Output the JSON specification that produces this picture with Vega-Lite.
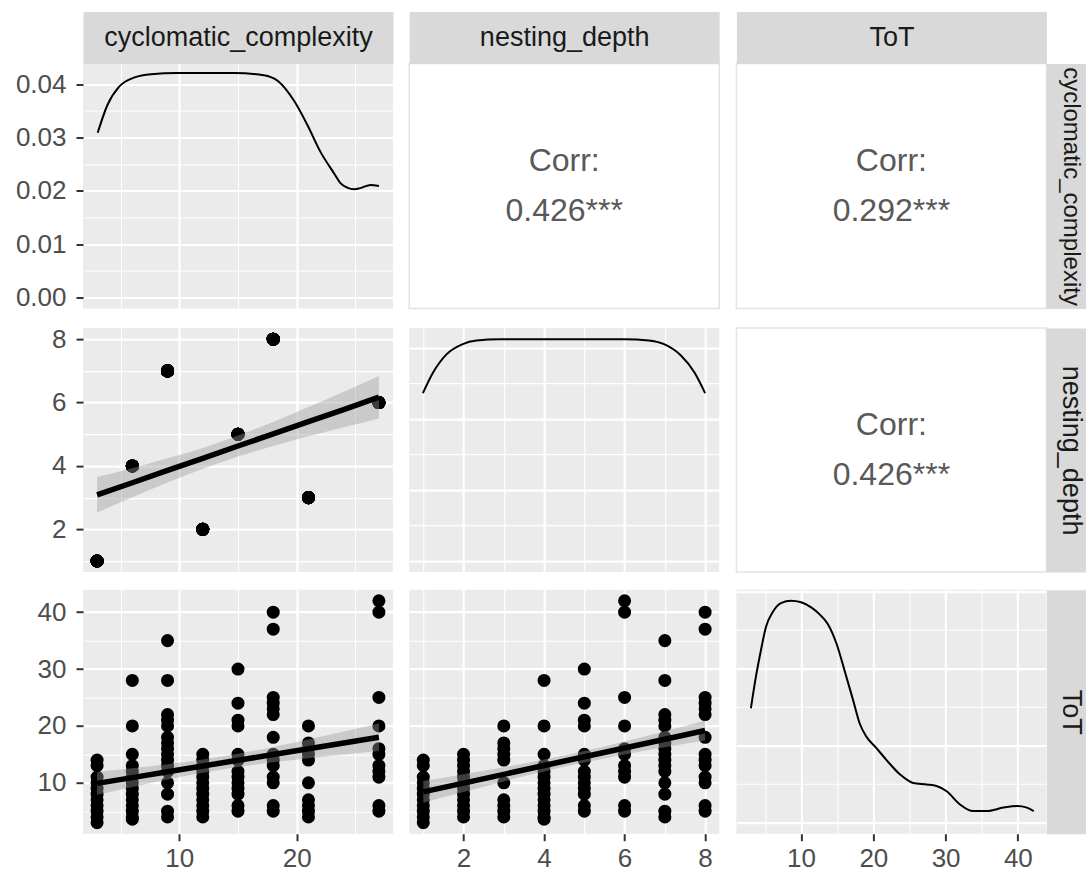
{
  "$schema": "https://vega.github.io/schema/vega-lite/v6.json",
  "padding": {"left": 15, "top": 22.5, "right": 0, "bottom": 0},
  "background": "white",
  "config": {
    "font": "Liberation Sans",
    "view": {"stroke": null},
    "axis": {"domain": false, "labelFont": "Liberation Sans", "labelFontSize": 26, "labelColor": "#4d4d4d", "tickColor": "#333333", "tickSize": 7, "tickWidth": 2, "gridColor": "#ffffff", "labelPadding": 7, "labelOverlap": false, "labelFlush": false,
             "titleFont": "Liberation Sans", "titleFontSize": 27, "titleFontWeight": "normal", "titleColor": "#1a1a1a", "domainColor": "#d9d9d9", "domainCap": "butt"},
    "axisLeft": {"labelPadding": 10},
    "axisBottom": {"labelPadding": 5}
  },
  "datasets": {
    "main": [
      {"cc":3,"nd":1,"ToT":14},{"cc":3,"nd":1,"ToT":13},{"cc":3,"nd":1,"ToT":11},{"cc":3,"nd":1,"ToT":10},{"cc":3,"nd":1,"ToT":9},{"cc":3,"nd":1,"ToT":8},{"cc":3,"nd":1,"ToT":7},{"cc":3,"nd":1,"ToT":6},{"cc":3,"nd":1,"ToT":5},{"cc":3,"nd":1,"ToT":4},{"cc":3,"nd":1,"ToT":3},
      {"cc":6,"nd":4,"ToT":28},{"cc":6,"nd":4,"ToT":20},{"cc":6,"nd":4,"ToT":15},{"cc":6,"nd":4,"ToT":13},{"cc":6,"nd":4,"ToT":12},{"cc":6,"nd":4,"ToT":11},{"cc":6,"nd":4,"ToT":10},{"cc":6,"nd":4,"ToT":9},{"cc":6,"nd":4,"ToT":8},{"cc":6,"nd":4,"ToT":7},{"cc":6,"nd":4,"ToT":6},{"cc":6,"nd":4,"ToT":5},{"cc":6,"nd":4,"ToT":4},{"cc":6,"nd":4,"ToT":3.6},
      {"cc":9,"nd":7,"ToT":35},{"cc":9,"nd":7,"ToT":28},{"cc":9,"nd":7,"ToT":22},{"cc":9,"nd":7,"ToT":21},{"cc":9,"nd":7,"ToT":20},{"cc":9,"nd":7,"ToT":18},{"cc":9,"nd":7,"ToT":17},{"cc":9,"nd":7,"ToT":16},{"cc":9,"nd":7,"ToT":15},{"cc":9,"nd":7,"ToT":14},{"cc":9,"nd":7,"ToT":13},{"cc":9,"nd":7,"ToT":12},{"cc":9,"nd":7,"ToT":10},{"cc":9,"nd":7,"ToT":8},{"cc":9,"nd":7,"ToT":5},{"cc":9,"nd":7,"ToT":4},
      {"cc":12,"nd":2,"ToT":15},{"cc":12,"nd":2,"ToT":14},{"cc":12,"nd":2,"ToT":13},{"cc":12,"nd":2,"ToT":12},{"cc":12,"nd":2,"ToT":11},{"cc":12,"nd":2,"ToT":10},{"cc":12,"nd":2,"ToT":9},{"cc":12,"nd":2,"ToT":8},{"cc":12,"nd":2,"ToT":7},{"cc":12,"nd":2,"ToT":6},{"cc":12,"nd":2,"ToT":5},{"cc":12,"nd":2,"ToT":4},
      {"cc":15,"nd":5,"ToT":30},{"cc":15,"nd":5,"ToT":24},{"cc":15,"nd":5,"ToT":21},{"cc":15,"nd":5,"ToT":20},{"cc":15,"nd":5,"ToT":15},{"cc":15,"nd":5,"ToT":14},{"cc":15,"nd":5,"ToT":12},{"cc":15,"nd":5,"ToT":11},{"cc":15,"nd":5,"ToT":10},{"cc":15,"nd":5,"ToT":9},{"cc":15,"nd":5,"ToT":8},{"cc":15,"nd":5,"ToT":6},{"cc":15,"nd":5,"ToT":5},
      {"cc":18,"nd":8,"ToT":40},{"cc":18,"nd":8,"ToT":37},{"cc":18,"nd":8,"ToT":25},{"cc":18,"nd":8,"ToT":24},{"cc":18,"nd":8,"ToT":23},{"cc":18,"nd":8,"ToT":22},{"cc":18,"nd":8,"ToT":18},{"cc":18,"nd":8,"ToT":15},{"cc":18,"nd":8,"ToT":14},{"cc":18,"nd":8,"ToT":13},{"cc":18,"nd":8,"ToT":11},{"cc":18,"nd":8,"ToT":10},{"cc":18,"nd":8,"ToT":6},{"cc":18,"nd":8,"ToT":5},
      {"cc":21,"nd":3,"ToT":20},{"cc":21,"nd":3,"ToT":17},{"cc":21,"nd":3,"ToT":16},{"cc":21,"nd":3,"ToT":15},{"cc":21,"nd":3,"ToT":14},{"cc":21,"nd":3,"ToT":10},{"cc":21,"nd":3,"ToT":7},{"cc":21,"nd":3,"ToT":6},{"cc":21,"nd":3,"ToT":5},{"cc":21,"nd":3,"ToT":4},
      {"cc":27,"nd":6,"ToT":42},{"cc":27,"nd":6,"ToT":40},{"cc":27,"nd":6,"ToT":25},{"cc":27,"nd":6,"ToT":20},{"cc":27,"nd":6,"ToT":16},{"cc":27,"nd":6,"ToT":15},{"cc":27,"nd":6,"ToT":13},{"cc":27,"nd":6,"ToT":12},{"cc":27,"nd":6,"ToT":11},{"cc":27,"nd":6,"ToT":6},{"cc":27,"nd":6,"ToT":5}
    ],
    "dens": [
      {"v":"cc","x":3.05,"y":0.0309},{"v":"cc","x":3.9,"y":0.0362},{"v":"cc","x":4.9,"y":0.0396},{"v":"cc","x":6.2,"y":0.0413},{"v":"cc","x":7.6,"y":0.0419},{"v":"cc","x":9.8,"y":0.0421},{"v":"cc","x":12,"y":0.0421},{"v":"cc","x":14.7,"y":0.0421},{"v":"cc","x":17.2,"y":0.0417},{"v":"cc","x":18.4,"y":0.0406},{"v":"cc","x":19.8,"y":0.0368},{"v":"cc","x":20.9,"y":0.0324},{"v":"cc","x":22.0,"y":0.0274},{"v":"cc","x":23.2,"y":0.0232},{"v":"cc","x":23.7,"y":0.0215},{"v":"cc","x":24.3,"y":0.0206},{"v":"cc","x":24.9,"y":0.0203},{"v":"cc","x":25.4,"y":0.0205},{"v":"cc","x":26.3,"y":0.0211},{"v":"cc","x":27.0,"y":0.0209},
      {"v":"nd","x":0.99,"y":0.0946},{"v":"nd","x":1.24,"y":0.1061},{"v":"nd","x":1.57,"y":0.1163},{"v":"nd","x":1.98,"y":0.1222},{"v":"nd","x":2.32,"y":0.1242},{"v":"nd","x":2.9,"y":0.125},{"v":"nd","x":4.5,"y":0.125},{"v":"nd","x":6.0,"y":0.125},{"v":"nd","x":6.6,"y":0.1243},{"v":"nd","x":6.98,"y":0.1222},{"v":"nd","x":7.4,"y":0.1158},{"v":"nd","x":7.74,"y":0.1061},{"v":"nd","x":8.0,"y":0.0946},
      {"v":"ToT","x":3.06,"y":0.0297},{"v":"ToT","x":3.75,"y":0.0379},{"v":"ToT","x":4.44,"y":0.0447},{"v":"ToT","x":5.14,"y":0.0508},{"v":"ToT","x":6.06,"y":0.0546},{"v":"ToT","x":7.22,"y":0.057},{"v":"ToT","x":8.6,"y":0.0576},{"v":"ToT","x":10,"y":0.0572},{"v":"ToT","x":11.4,"y":0.0559},{"v":"ToT","x":12.5,"y":0.0542},{"v":"ToT","x":13.7,"y":0.0516},{"v":"ToT","x":14.9,"y":0.0465},{"v":"ToT","x":16.0,"y":0.0396},{"v":"ToT","x":17.2,"y":0.0318},{"v":"ToT","x":18.1,"y":0.0258},{"v":"ToT","x":19.0,"y":0.0224},{"v":"ToT","x":20.4,"y":0.0194},{"v":"ToT","x":21.8,"y":0.0163},{"v":"ToT","x":23.7,"y":0.0125},{"v":"ToT","x":25.5,"y":0.0103},{"v":"ToT","x":27.4,"y":0.0099},{"v":"ToT","x":28.75,"y":0.0095},{"v":"ToT","x":30.1,"y":0.0082},{"v":"ToT","x":32.0,"y":0.0047},{"v":"ToT","x":33.8,"y":0.003},{"v":"ToT","x":35.7,"y":0.003},{"v":"ToT","x":38.0,"y":0.0039},{"v":"ToT","x":39.9,"y":0.0043},{"v":"ToT","x":41.25,"y":0.0039},{"v":"ToT","x":42.2,"y":0.003}
    ],
    "fit": [
      {"p":"cc_nd","x":3,"fit":3.09,"lo":2.53,"hi":3.65},{"p":"cc_nd","x":6,"fit":3.47,"lo":3.01,"hi":3.93},{"p":"cc_nd","x":9,"fit":3.86,"lo":3.48,"hi":4.24},{"p":"cc_nd","x":12,"fit":4.24,"lo":3.91,"hi":4.57},{"p":"cc_nd","x":15,"fit":4.63,"lo":4.30,"hi":4.96},{"p":"cc_nd","x":18,"fit":5.01,"lo":4.63,"hi":5.39},{"p":"cc_nd","x":21,"fit":5.40,"lo":4.94,"hi":5.86},{"p":"cc_nd","x":24,"fit":5.78,"lo":5.22,"hi":6.34},{"p":"cc_nd","x":27,"fit":6.17,"lo":5.50,"hi":6.84},
      {"p":"cc_tot","x":3,"fit":9.90,"lo":7.88,"hi":11.92},{"p":"cc_tot","x":6,"fit":10.91,"lo":9.26,"hi":12.56},{"p":"cc_tot","x":9,"fit":11.93,"lo":10.58,"hi":13.28},{"p":"cc_tot","x":12,"fit":12.94,"lo":11.77,"hi":14.11},{"p":"cc_tot","x":15,"fit":13.95,"lo":12.78,"hi":15.12},{"p":"cc_tot","x":18,"fit":14.96,"lo":13.61,"hi":16.31},{"p":"cc_tot","x":21,"fit":15.98,"lo":14.33,"hi":17.63},{"p":"cc_tot","x":24,"fit":16.99,"lo":14.97,"hi":19.01},{"p":"cc_tot","x":27,"fit":18.00,"lo":15.58,"hi":20.42},
      {"p":"nd_tot","x":1,"fit":8.40,"lo":6.50,"hi":10.30},{"p":"nd_tot","x":2,"fit":9.94,"lo":8.39,"hi":11.49},{"p":"nd_tot","x":3,"fit":11.49,"lo":10.24,"hi":12.74},{"p":"nd_tot","x":4,"fit":13.03,"lo":11.98,"hi":14.08},{"p":"nd_tot","x":5,"fit":14.57,"lo":13.56,"hi":15.58},{"p":"nd_tot","x":6,"fit":16.11,"lo":14.96,"hi":17.26},{"p":"nd_tot","x":7,"fit":17.66,"lo":16.25,"hi":19.07},{"p":"nd_tot","x":8,"fit":19.20,"lo":17.45,"hi":20.95}
    ]
  },
  "columns": 3,
  "spacing": {"row": 15.6, "column": 15.2},
  "align": "each",
  "resolve": {"scale": {"x": "independent", "y": "independent"}},
  "concat": [
    {
      "width": 310, "height": 245, "view": {"fill": "#ebebeb", "stroke": null},
      "data": {"name": "dens"},
      "transform": [{"filter": "datum.v === 'cc'"}],
      "mark": {"type": "line", "color": "black", "strokeWidth": 2, "interpolate": "monotone", "clip": true},
      "encoding": {
        "x": {"field": "x", "type": "quantitative", "scale": {"domain": [1.8, 28.2], "nice": false, "zero": false},
              "axis": {"orient": "top", "values": [5, 10, 15, 20, 25], "labels": false, "ticks": false, "grid": true, "gridWidth": {"condition": {"test": "datum.value % 10 === 0", "value": 2.2}, "value": 1.1},
                       "domain": true, "domainWidth": 52, "offset": 26, "title": "cyclomatic_complexity", "titleY": 0, "titleBaseline": "middle"}},
        "y": {"field": "y", "type": "quantitative", "title": null, "scale": {"domain": [-0.0021, 0.0439], "nice": false, "zero": false},
              "axis": {"orient": "left", "values": [0, 0.005, 0.01, 0.015, 0.02, 0.025, 0.03, 0.035, 0.04], "format": ".2f", "grid": true,
                       "gridWidth": {"condition": {"test": "round(datum.value*1000) % 10 === 0", "value": 2.2}, "value": 1.1},
                       "tickOpacity": {"condition": {"test": "round(datum.value*1000) % 10 === 0", "value": 1}, "value": 0},
                       "labelExpr": "round(datum.value*1000) % 10 === 0 ? datum.label : ''"}}
      }
    },
    {
      "width": 310, "height": 245, "view": {"fill": "white", "stroke": "#e3e3e3", "strokeWidth": 1.5},
      "data": {"values": [{"t": ["Corr:", "0.426***"]}]},
      "mark": {"type": "text", "font": "Liberation Sans", "fontSize": 32, "lineHeight": 50, "color": "#595959", "baseline": "middle", "dy": -25},
      "encoding": {
        "text": {"field": "t"},
        "x": {"datum": 0.5, "type": "quantitative", "scale": {"domain": [0, 1]},
              "axis": {"orient": "top", "labels": false, "ticks": false, "grid": false, "domain": true, "domainWidth": 52, "offset": 26, "title": "nesting_depth", "titleY": 0, "titleBaseline": "middle"}},
        "y": {"datum": 0.5, "type": "quantitative", "scale": {"domain": [0, 1]}, "axis": null}
      }
    },
    {
      "width": 310, "height": 245, "view": {"fill": "white", "stroke": "#e3e3e3", "strokeWidth": 1.5},
      "data": {"values": [{"t": ["Corr:", "0.292***"]}]},
      "mark": {"type": "text", "font": "Liberation Sans", "fontSize": 32, "lineHeight": 50, "color": "#595959", "baseline": "middle", "dy": -25},
      "encoding": {
        "text": {"field": "t"},
        "x": {"datum": 0.5, "type": "quantitative", "scale": {"domain": [0, 1]},
              "axis": {"orient": "top", "labels": false, "ticks": false, "grid": false, "domain": true, "domainWidth": 52, "offset": 26, "title": "ToT", "titleY": 0, "titleBaseline": "middle"}},
        "y": {"datum": 0.5, "type": "quantitative", "scale": {"domain": [0, 1]},
              "axis": {"orient": "right", "labels": false, "ticks": false, "grid": false, "domain": true, "domainWidth": 43, "offset": 21.5, "title": "cyclomatic_complexity", "titleFontSize": 24, "titleAngle": 90, "titleX": 3, "titleBaseline": "middle"}}
      }
    },
    {
      "width": 310, "height": 244, "view": {"fill": "#ebebeb", "stroke": null},
      "layer": [
        {
          "data": {"name": "main"},
          "mark": {"type": "circle", "size": 170, "opacity": 1, "color": "black", "clip": true},
          "encoding": {
            "x": {"field": "cc", "type": "quantitative", "title": null, "scale": {"domain": [1.8, 28.2], "nice": false, "zero": false},
                  "axis": {"values": [5, 10, 15, 20, 25], "labels": false, "ticks": false, "grid": true, "gridWidth": {"condition": {"test": "datum.value % 10 === 0", "value": 2.2}, "value": 1.1}}},
            "y": {"field": "nd", "type": "quantitative", "title": null, "scale": {"domain": [0.65, 8.35], "nice": false, "zero": false},
                  "axis": {"orient": "left", "values": [1, 2, 3, 4, 5, 6, 7, 8], "grid": true, "labels": true, "ticks": true,
                           "gridWidth": {"condition": {"test": "datum.value % 2 === 0", "value": 2.2}, "value": 1.1},
                           "tickOpacity": {"condition": {"test": "datum.value % 2 === 0", "value": 1}, "value": 0},
                           "labelExpr": "datum.value % 2 === 0 ? datum.label : ''"}}
          }
        },
        {
          "data": {"name": "fit"},
          "transform": [{"filter": "datum.p === 'cc_nd'"}],
          "mark": {"type": "area", "color": "#999999", "opacity": 0.4, "interpolate": "monotone", "clip": true},
          "encoding": {
            "x": {"field": "x", "type": "quantitative", "title": null, "scale": {"domain": [1.8, 28.2], "nice": false, "zero": false},
                  "axis": {"values": [5, 10, 15, 20, 25], "labels": false, "ticks": false, "grid": true, "gridWidth": {"condition": {"test": "datum.value % 10 === 0", "value": 2.2}, "value": 1.1}}},
            "y": {"field": "lo", "type": "quantitative", "title": null, "scale": {"domain": [0.65, 8.35], "nice": false, "zero": false},
                  "axis": {"orient": "left", "values": [1, 2, 3, 4, 5, 6, 7, 8], "grid": true, "labels": true, "ticks": true,
                           "gridWidth": {"condition": {"test": "datum.value % 2 === 0", "value": 2.2}, "value": 1.1},
                           "tickOpacity": {"condition": {"test": "datum.value % 2 === 0", "value": 1}, "value": 0},
                           "labelExpr": "datum.value % 2 === 0 ? datum.label : ''"}},
            "y2": {"field": "hi"}
          }
        },
        {
          "data": {"name": "fit"},
          "transform": [{"filter": "datum.p === 'cc_nd'"}],
          "mark": {"type": "line", "color": "black", "strokeWidth": 5.5, "clip": true},
          "encoding": {
            "x": {"field": "x", "type": "quantitative", "title": null, "scale": {"domain": [1.8, 28.2], "nice": false, "zero": false},
                  "axis": {"values": [5, 10, 15, 20, 25], "labels": false, "ticks": false, "grid": true, "gridWidth": {"condition": {"test": "datum.value % 10 === 0", "value": 2.2}, "value": 1.1}}},
            "y": {"field": "fit", "type": "quantitative", "title": null, "scale": {"domain": [0.65, 8.35], "nice": false, "zero": false},
                  "axis": {"orient": "left", "values": [1, 2, 3, 4, 5, 6, 7, 8], "grid": true, "labels": true, "ticks": true,
                           "gridWidth": {"condition": {"test": "datum.value % 2 === 0", "value": 2.2}, "value": 1.1},
                           "tickOpacity": {"condition": {"test": "datum.value % 2 === 0", "value": 1}, "value": 0},
                           "labelExpr": "datum.value % 2 === 0 ? datum.label : ''"}}
          }
        }
      ]
    },
    {
      "width": 310, "height": 244, "view": {"fill": "#ebebeb", "stroke": null},
      "data": {"name": "dens"},
      "transform": [{"filter": "datum.v === 'nd'"}],
      "mark": {"type": "line", "color": "black", "strokeWidth": 2, "interpolate": "monotone", "clip": true},
      "encoding": {
        "x": {"field": "x", "type": "quantitative", "title": null, "scale": {"domain": [0.65, 8.35], "nice": false, "zero": false},
              "axis": {"values": [1, 2, 3, 4, 5, 6, 7, 8], "labels": false, "ticks": false, "grid": true, "gridWidth": {"condition": {"test": "datum.value % 2 === 0", "value": 2.2}, "value": 1.1}}},
        "y": {"field": "y", "type": "quantitative", "title": null, "scale": {"domain": [-0.00625, 0.13125], "nice": false, "zero": false},
              "axis": {"values": [0, 0.02, 0.04, 0.06, 0.08, 0.1, 0.12], "labels": false, "ticks": false, "grid": true, "gridWidth": {"condition": {"test": "round(datum.value*100) % 4 === 0", "value": 2.2}, "value": 1.1}}}
      }
    },
    {
      "width": 310, "height": 244, "view": {"fill": "white", "stroke": "#e3e3e3", "strokeWidth": 1.5},
      "data": {"values": [{"t": ["Corr:", "0.426***"]}]},
      "mark": {"type": "text", "font": "Liberation Sans", "fontSize": 32, "lineHeight": 50, "color": "#595959", "baseline": "middle", "dy": -25},
      "encoding": {
        "text": {"field": "t"},
        "x": {"datum": 0.5, "type": "quantitative", "scale": {"domain": [0, 1]}, "axis": null},
        "y": {"datum": 0.5, "type": "quantitative", "scale": {"domain": [0, 1]},
              "axis": {"orient": "right", "labels": false, "ticks": false, "grid": false, "domain": true, "domainWidth": 43, "offset": 21.5, "title": "nesting_depth", "titleAngle": 90, "titleX": 3, "titleBaseline": "middle"}}
      }
    },
    {
      "width": 310, "height": 244, "view": {"fill": "#ebebeb", "stroke": null},
      "layer": [
        {
          "data": {"name": "main"},
          "mark": {"type": "circle", "size": 170, "opacity": 1, "color": "black", "clip": true},
          "encoding": {
            "x": {"field": "cc", "type": "quantitative", "title": null, "scale": {"domain": [1.8, 28.2], "nice": false, "zero": false},
                  "axis": {"values": [5, 10, 15, 20, 25], "grid": true, "labels": true, "ticks": true,
                           "gridWidth": {"condition": {"test": "datum.value % 10 === 0", "value": 2.2}, "value": 1.1},
                           "tickOpacity": {"condition": {"test": "datum.value % 10 === 0", "value": 1}, "value": 0},
                           "labelExpr": "datum.value % 10 === 0 ? datum.label : ''"}},
            "y": {"field": "ToT", "type": "quantitative", "title": null, "scale": {"domain": [1.05, 43.95], "nice": false, "zero": false},
                  "axis": {"orient": "left", "values": [5, 10, 15, 20, 25, 30, 35, 40], "grid": true, "labels": true, "ticks": true,
                           "gridWidth": {"condition": {"test": "datum.value % 10 === 0", "value": 2.2}, "value": 1.1},
                           "tickOpacity": {"condition": {"test": "datum.value % 10 === 0", "value": 1}, "value": 0},
                           "labelExpr": "datum.value % 10 === 0 ? datum.label : ''"}}
          }
        },
        {
          "data": {"name": "fit"},
          "transform": [{"filter": "datum.p === 'cc_tot'"}],
          "mark": {"type": "area", "color": "#999999", "opacity": 0.4, "interpolate": "monotone", "clip": true},
          "encoding": {
            "x": {"field": "x", "type": "quantitative", "title": null, "scale": {"domain": [1.8, 28.2], "nice": false, "zero": false},
                  "axis": {"values": [5, 10, 15, 20, 25], "grid": true, "labels": true, "ticks": true,
                           "gridWidth": {"condition": {"test": "datum.value % 10 === 0", "value": 2.2}, "value": 1.1},
                           "tickOpacity": {"condition": {"test": "datum.value % 10 === 0", "value": 1}, "value": 0},
                           "labelExpr": "datum.value % 10 === 0 ? datum.label : ''"}},
            "y": {"field": "lo", "type": "quantitative", "title": null, "scale": {"domain": [1.05, 43.95], "nice": false, "zero": false},
                  "axis": {"orient": "left", "values": [5, 10, 15, 20, 25, 30, 35, 40], "grid": true, "labels": true, "ticks": true,
                           "gridWidth": {"condition": {"test": "datum.value % 10 === 0", "value": 2.2}, "value": 1.1},
                           "tickOpacity": {"condition": {"test": "datum.value % 10 === 0", "value": 1}, "value": 0},
                           "labelExpr": "datum.value % 10 === 0 ? datum.label : ''"}},
            "y2": {"field": "hi"}
          }
        },
        {
          "data": {"name": "fit"},
          "transform": [{"filter": "datum.p === 'cc_tot'"}],
          "mark": {"type": "line", "color": "black", "strokeWidth": 5.5, "clip": true},
          "encoding": {
            "x": {"field": "x", "type": "quantitative", "title": null, "scale": {"domain": [1.8, 28.2], "nice": false, "zero": false},
                  "axis": {"values": [5, 10, 15, 20, 25], "grid": true, "labels": true, "ticks": true,
                           "gridWidth": {"condition": {"test": "datum.value % 10 === 0", "value": 2.2}, "value": 1.1},
                           "tickOpacity": {"condition": {"test": "datum.value % 10 === 0", "value": 1}, "value": 0},
                           "labelExpr": "datum.value % 10 === 0 ? datum.label : ''"}},
            "y": {"field": "fit", "type": "quantitative", "title": null, "scale": {"domain": [1.05, 43.95], "nice": false, "zero": false},
                  "axis": {"orient": "left", "values": [5, 10, 15, 20, 25, 30, 35, 40], "grid": true, "labels": true, "ticks": true,
                           "gridWidth": {"condition": {"test": "datum.value % 10 === 0", "value": 2.2}, "value": 1.1},
                           "tickOpacity": {"condition": {"test": "datum.value % 10 === 0", "value": 1}, "value": 0},
                           "labelExpr": "datum.value % 10 === 0 ? datum.label : ''"}}
          }
        }
      ]
    },
    {
      "width": 310, "height": 244, "view": {"fill": "#ebebeb", "stroke": null},
      "layer": [
        {
          "data": {"name": "main"},
          "mark": {"type": "circle", "size": 170, "opacity": 1, "color": "black", "clip": true},
          "encoding": {
            "x": {"field": "nd", "type": "quantitative", "title": null, "scale": {"domain": [0.65, 8.35], "nice": false, "zero": false},
                  "axis": {"values": [1, 2, 3, 4, 5, 6, 7, 8], "grid": true, "labels": true, "ticks": true,
                           "gridWidth": {"condition": {"test": "datum.value % 2 === 0", "value": 2.2}, "value": 1.1},
                           "tickOpacity": {"condition": {"test": "datum.value % 2 === 0", "value": 1}, "value": 0},
                           "labelExpr": "datum.value % 2 === 0 ? datum.label : ''"}},
            "y": {"field": "ToT", "type": "quantitative", "title": null, "scale": {"domain": [1.05, 43.95], "nice": false, "zero": false},
                  "axis": {"values": [5, 10, 15, 20, 25, 30, 35, 40], "labels": false, "ticks": false, "grid": true,
                           "gridWidth": {"condition": {"test": "datum.value % 10 === 0", "value": 2.2}, "value": 1.1}}}
          }
        },
        {
          "data": {"name": "fit"},
          "transform": [{"filter": "datum.p === 'nd_tot'"}],
          "mark": {"type": "area", "color": "#999999", "opacity": 0.4, "interpolate": "monotone", "clip": true},
          "encoding": {
            "x": {"field": "x", "type": "quantitative", "title": null, "scale": {"domain": [0.65, 8.35], "nice": false, "zero": false},
                  "axis": {"values": [1, 2, 3, 4, 5, 6, 7, 8], "grid": true, "labels": true, "ticks": true,
                           "gridWidth": {"condition": {"test": "datum.value % 2 === 0", "value": 2.2}, "value": 1.1},
                           "tickOpacity": {"condition": {"test": "datum.value % 2 === 0", "value": 1}, "value": 0},
                           "labelExpr": "datum.value % 2 === 0 ? datum.label : ''"}},
            "y": {"field": "lo", "type": "quantitative", "title": null, "scale": {"domain": [1.05, 43.95], "nice": false, "zero": false},
                  "axis": {"values": [5, 10, 15, 20, 25, 30, 35, 40], "labels": false, "ticks": false, "grid": true,
                           "gridWidth": {"condition": {"test": "datum.value % 10 === 0", "value": 2.2}, "value": 1.1}}},
            "y2": {"field": "hi"}
          }
        },
        {
          "data": {"name": "fit"},
          "transform": [{"filter": "datum.p === 'nd_tot'"}],
          "mark": {"type": "line", "color": "black", "strokeWidth": 5.5, "clip": true},
          "encoding": {
            "x": {"field": "x", "type": "quantitative", "title": null, "scale": {"domain": [0.65, 8.35], "nice": false, "zero": false},
                  "axis": {"values": [1, 2, 3, 4, 5, 6, 7, 8], "grid": true, "labels": true, "ticks": true,
                           "gridWidth": {"condition": {"test": "datum.value % 2 === 0", "value": 2.2}, "value": 1.1},
                           "tickOpacity": {"condition": {"test": "datum.value % 2 === 0", "value": 1}, "value": 0},
                           "labelExpr": "datum.value % 2 === 0 ? datum.label : ''"}},
            "y": {"field": "fit", "type": "quantitative", "title": null, "scale": {"domain": [1.05, 43.95], "nice": false, "zero": false},
                  "axis": {"values": [5, 10, 15, 20, 25, 30, 35, 40], "labels": false, "ticks": false, "grid": true,
                           "gridWidth": {"condition": {"test": "datum.value % 10 === 0", "value": 2.2}, "value": 1.1}}}
          }
        }
      ]
    },
    {
      "width": 310, "height": 244, "view": {"fill": "#ebebeb", "stroke": null},
      "data": {"name": "dens"},
      "transform": [{"filter": "datum.v === 'ToT'"}],
      "mark": {"type": "line", "color": "black", "strokeWidth": 2, "interpolate": "monotone", "clip": true},
      "encoding": {
        "x": {"field": "x", "type": "quantitative", "title": null, "scale": {"domain": [1.05, 43.95], "nice": false, "zero": false},
              "axis": {"values": [5, 10, 15, 20, 25, 30, 35, 40], "grid": true,
                       "gridWidth": {"condition": {"test": "datum.value % 10 === 0", "value": 2.2}, "value": 1.1},
                       "tickOpacity": {"condition": {"test": "datum.value % 10 === 0", "value": 1}, "value": 0},
                       "labelExpr": "datum.value % 10 === 0 ? datum.label : ''"}},
        "y": {"field": "y", "type": "quantitative", "scale": {"domain": [-0.00288, 0.06048], "nice": false, "zero": false},
              "axis": {"orient": "right", "values": [0, 0.01, 0.02, 0.03, 0.04, 0.05, 0.06], "labels": false, "ticks": false, "grid": true,
                       "gridWidth": {"condition": {"test": "round(datum.value*100) % 2 === 0", "value": 2.2}, "value": 1.1},
                       "domain": true, "domainWidth": 43, "offset": 21.5, "title": "ToT", "titleAngle": 90, "titleX": 3, "titleBaseline": "middle"}}
      }
    }
  ]
}
